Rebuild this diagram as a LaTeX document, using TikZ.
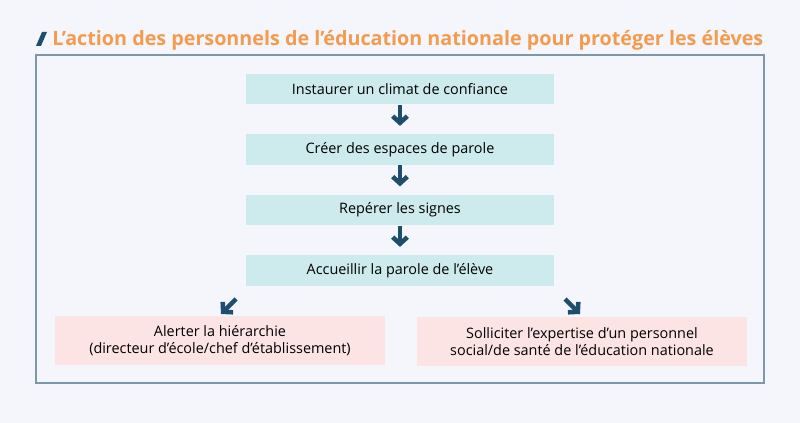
\documentclass[tikz,border=0pt]{standalone}
\usepackage{fontspec}
\setmainfont{Open Sans}
\usetikzlibrary{arrows.meta}

\definecolor{pagebg}{HTML}{F5F6FB}
\definecolor{framecol}{HTML}{7F97AC}
\definecolor{titlecol}{HTML}{F39B4F}
\definecolor{darkblue}{HTML}{1E4D6E}
\definecolor{stepfill}{HTML}{CDEBEC}
\definecolor{endfill}{HTML}{FDE4E4}

\begin{document}
\begin{tikzpicture}[x=0.75pt, y=-0.75pt,
    stepbox/.style={fill=stepfill, minimum width=231pt, minimum height=23pt, inner sep=0pt, font=\fontsize{10.8}{13}\selectfont},
    endbox/.style={fill=endfill, minimum width=247.5pt, minimum height=37pt, inner sep=0pt, align=center, font=\fontsize{10.8}{12.75}\selectfont},
    flowarrow/.style={draw=darkblue, line width=3.4pt, -{Straight Barb[length=5pt, width=11pt, line width=3.4pt]}}
]
    % Background
    \fill[pagebg] (0,0) rectangle (800,423);
    \useasboundingbox (0,0) rectangle (800,423);

    % Title
    \fill[darkblue] (36,46) -- (41,46) -- (47,32) -- (42,32) -- cycle;
    \node[anchor=base west, inner sep=0pt, text=titlecol, font=\fontsize{14.8}{16}\selectfont\bfseries] (title) at (52,46) {L’action des personnels de l’éducation nationale pour protéger les élèves};

    % Frame
    \draw[framecol, line width=1.5pt] (36,55) rectangle (764,383);

    % Steps
    \node[stepbox] (s1) at (400,89) {Instaurer un climat de confiance};
    \node[stepbox] (s2) at (400,149.5) {Créer des espaces de parole};
    \node[stepbox] (s3) at (400,210) {Repérer les signes};
    \node[stepbox] (s4) at (400,270.5) {Accueillir la parole de l’élève};

    % Outcomes
    \node[endbox] (e1) at (220,340.5) {Alerter la hiérarchie\\(directeur d’école/chef d’établissement)};
    \node[endbox] (e2) at (582,341.5) {Solliciter l’expertise d’un personnel\\social/de santé de l’éducation nationale};

    % Arrows
    \foreach \a/\b in {s1/s2, s2/s3, s3/s4} {
        \draw[flowarrow, shorten >=6pt] (\a.south) -- (\b.north);
    }
    \coordinate (l1) at (236,299);
    \coordinate (l2) at (221,314);
    \coordinate (r1) at (565,299);
    \coordinate (r2) at (580,314);
    \draw[flowarrow] (l1) -- (l2);
    \draw[flowarrow] (r1) -- (r2);
\end{tikzpicture}
\end{document}
